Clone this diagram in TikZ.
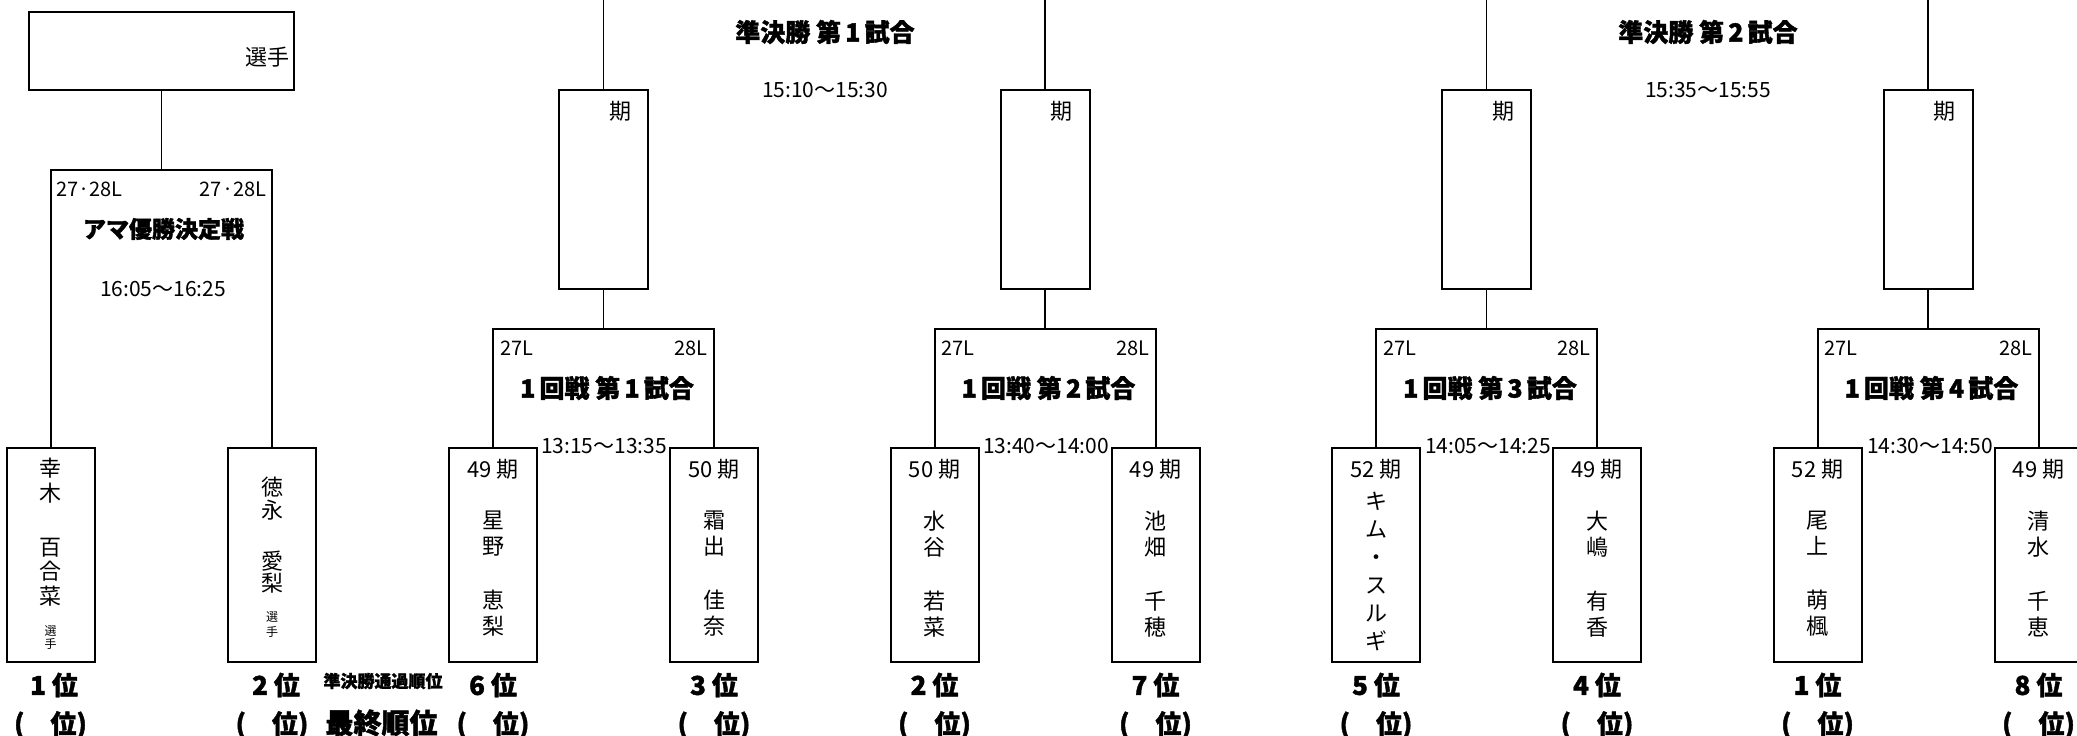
\documentclass[tikz,border=0pt]{standalone}
\usepackage{fontspec}
\setmainfont{Noto Sans CJK JP}[BoldFeatures={FakeBold=1.5}]

\tikzset{
    waku/.style={draw, line width=2pt, inner sep=0pt},
    senshu/.style={waku, minimum width=88pt, minimum height=214pt},
    kachi/.style={waku, minimum width=89pt, minimum height=199pt},
    sen/.style={line width=1.6pt},
    yagura/.style={line width=2pt},
    moji/.style={inner sep=0pt, font=\fontsize{20pt}{22pt}\selectfont},
    kimoji/.style={inner sep=0pt, font=\fontsize{22pt}{24pt}\selectfont},
    jikan/.style={inner sep=0pt, font=\fontsize{21pt}{23pt}\selectfont},
    midashi/.style={inner sep=0pt, font=\fontsize{25pt}{27pt}\selectfont\bfseries},
    juni/.style={inner sep=0pt, font=\fontsize{26pt}{28pt}\selectfont\bfseries},
    tate/.style={inner sep=0pt, anchor=north, align=center, font=\fontsize{22pt}{26pt}\selectfont},
}

\newcommand{\kishi}[6]{%
    \node[senshu] (#1) at (#2,555) {};
    \node[kimoji] (#1-ki) at (#2,469) {#3 期};
    \node[tate] (#1-na) at (#2,#5) {#6};
    \node[juni] (#1-juni) at (#2,685) {#4 位};
    \node[juni] (#1-saishu) at (#2,725) {(　位)};
}

\begin{document}
\begin{tikzpicture}[x=1pt, y=-1pt]
    \useasboundingbox (0,0) rectangle (2077,736);

    \node[waku, minimum width=265pt, minimum height=78pt] (yusho) at (161.5,51) {};
    \node[kimoji] (yusho-sen) at (267,57) {選手};

    \node[senshu] (koki) at (50.5,555) {};
    \node[tate, font=\fontsize{22pt}{24.5pt}\selectfont] (koki-na) at (50.5,458) {幸\\木\\[29.5pt]百\\合\\菜};
    \node[tate, font=\fontsize{12pt}{13pt}\selectfont] (koki-sen) at (50.5,625.5) {選\\手};
    \node[juni] (koki-juni) at (54,685) {1 位};
    \node[juni] (koki-saishu) at (50.5,725) {(　位)};

    \node[senshu] (tokunaga) at (272,555) {};
    \node[tate, font=\fontsize{22pt}{22.5pt}\selectfont] (tokunaga-na) at (272,477) {徳\\永\\[28.5pt]愛\\梨};
    \node[tate, font=\fontsize{12pt}{15pt}\selectfont] (tokunaga-sen) at (272,611.5) {選\\手};
    \node[juni] (tokunaga-juni) at (276,685) {2 位};
    \node[juni] (tokunaga-saishu) at (272,725) {(　位)};

    \coordinate (kessho) at (161.5,170);
    \draw[yagura] (koki.north) |- (kessho) -| (tokunaga.north);
    \draw[sen] (yusho.south) -- (kessho);
    \node[moji, anchor=west] (kessho-l) at (56,189) {27·28L};
    \node[moji, anchor=east] (kessho-r) at (266.5,189) {27·28L};
    \node[midashi, font=\fontsize{23pt}{25pt}\selectfont\bfseries] (kessho-t) at (163.5,229) {アマ優勝決定戦};
    \node[jikan] (kessho-j) at (163,289.5) {16:05〜16:25};

    \node[juni, font=\fontsize{17pt}{19pt}\selectfont\bfseries] (tsuka) at (383,681) {準決勝通過順位};
    \node[juni, font=\fontsize{28pt}{30pt}\selectfont\bfseries] (saishu) at (381.5,723) {最終順位};

    \kishi{hoshino}{493}{49}{6}{511}{星\\野\\[28pt]恵\\梨}
    \kishi{shimode}{714}{50}{3}{511}{霜\\出\\[28pt]佳\\奈}
    \kishi{mizutani}{934.5}{50}{2}{511}{水\\谷\\[28pt]若\\菜}
    \kishi{ikehata}{1155.5}{49}{7}{511}{池\\畑\\[28pt]千\\穂}
    \kishi{kim}{1376}{52}{5}{492}{キ\\[2pt]ム\\[2pt]・\\[2pt]ス\\[2pt]ル\\[2pt]ギ}
    \kishi{oshima}{1597}{49}{4}{511}{大\\嶋\\[28pt]有\\香}
    \kishi{onoue}{1817.5}{52}{1}{511}{尾\\上\\[28pt]萌\\楓}
    \kishi{shimizu}{2038.5}{49}{8}{511}{清\\水\\[28pt]千\\恵}

    \node[kachi] (jun1a) at (603.5,189.5) {};
    \node[kachi] (jun1b) at (1045,189.5) {};
    \node[kachi] (jun2a) at (1486.5,189.5) {};
    \node[kachi] (jun2b) at (1928,189.5) {};
    \node[kimoji] (jun1a-ki) at (620,111) {期};
    \node[kimoji] (jun1b-ki) at (1061.5,111) {期};
    \node[kimoji] (jun2a-ki) at (1503,111) {期};
    \node[kimoji] (jun2b-ki) at (1944.5,111) {期};

    \coordinate (jun1a-ue) at (603.5,0);
    \coordinate (jun1b-ue) at (1045,0);
    \coordinate (jun2a-ue) at (1486.5,0);
    \coordinate (jun2b-ue) at (1928,0);
    \draw[sen] (jun1a.north) -- (jun1a-ue);
    \draw[sen] (jun1b.north) -- (jun1b-ue);
    \draw[sen] (jun2a.north) -- (jun2a-ue);
    \draw[sen] (jun2b.north) -- (jun2b-ue);

    \node[midashi] (jun1-t) at (825,32) {準決勝 第\,1\,試合};
    \node[jikan] (jun1-j) at (825,90) {15:10〜15:30};
    \node[midashi] (jun2-t) at (1708,32) {準決勝 第\,2\,試合};
    \node[jikan] (jun2-j) at (1708,90) {15:35〜15:55};

    \coordinate (r1) at (603.5,328.5);
    \coordinate (r2) at (1045,328.5);
    \coordinate (r3) at (1486.5,328.5);
    \coordinate (r4) at (1928,328.5);
    \draw[yagura] (hoshino.north) |- (r1) -| (shimode.north);
    \draw[yagura] (mizutani.north) |- (r2) -| (ikehata.north);
    \draw[yagura] (kim.north) |- (r3) -| (oshima.north);
    \draw[yagura] (onoue.north) |- (r4) -| (shimizu.north);
    \draw[sen] (jun1a.south) -- (r1);
    \draw[sen] (jun1b.south) -- (r2);
    \draw[sen] (jun2a.south) -- (r3);
    \draw[sen] (jun2b.south) -- (r4);

    \node[moji, anchor=west] (r1-l) at (500,348.5) {27L};
    \node[moji, anchor=east] (r1-r) at (708,348.5) {28L};
    \node[midashi] (r1-t) at (607,388) {1\,回戦 第\,1\,試合};
    \node[jikan] (r1-j) at (604,446) {13:15〜13:35};

    \node[moji, anchor=west] (r2-l) at (941.5,348.5) {27L};
    \node[moji, anchor=east] (r2-r) at (1149.5,348.5) {28L};
    \node[midashi] (r2-t) at (1048.5,388) {1\,回戦 第\,2\,試合};
    \node[jikan] (r2-j) at (1046,446) {13:40〜14:00};

    \node[moji, anchor=west] (r3-l) at (1383,348.5) {27L};
    \node[moji, anchor=east] (r3-r) at (1591,348.5) {28L};
    \node[midashi] (r3-t) at (1490,388) {1\,回戦 第\,3\,試合};
    \node[jikan] (r3-j) at (1488,446) {14:05〜14:25};

    \node[moji, anchor=west] (r4-l) at (1824.5,348.5) {27L};
    \node[moji, anchor=east] (r4-r) at (2032.5,348.5) {28L};
    \node[midashi] (r4-t) at (1931.5,388) {1\,回戦 第\,4\,試合};
    \node[jikan] (r4-j) at (1930,446) {14:30〜14:50};
\end{tikzpicture}
\end{document}
